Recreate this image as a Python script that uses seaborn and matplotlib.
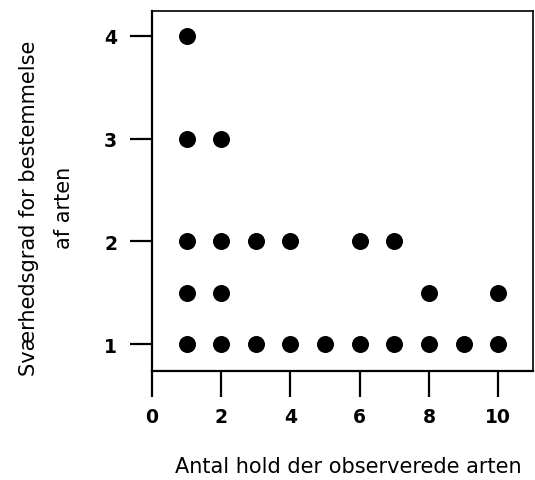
import matplotlib
matplotlib.use("Agg")
import matplotlib.pyplot as plt
import seaborn as sns
import pandas as pd

# antal hold (x) og sværhedsgrad (y)
antal_hold = [1, 1, 1, 1, 1,
              2, 2, 2, 2,
              3, 3,
              4, 4,
              5,
              6, 6,
              7, 7,
              8, 8,
              9,
              10, 10]
svaerhed = [4, 3, 2, 1.5, 1,
            3, 2, 1.5, 1,
            2, 1,
            2, 1,
            1,
            2, 1,
            2, 1,
            1.5, 1,
            1,
            1.5, 1]
x_ticks = [0, 2, 4, 6, 8, 10]
y_ticks = [1, 2, 3, 4]

df = pd.DataFrame({"hold": antal_hold, "grad": svaerhed})

sns.set_style("ticks", {"axes.edgecolor": "black", "text.color": "black",
                        "axes.labelcolor": "black", "xtick.color": "black",
                        "ytick.color": "black"})
plt.rcParams["font.family"] = ["DejaVu Sans"]

fig = plt.figure(figsize=(5.35, 4.81), dpi=100)
ax = fig.add_axes([0.284, 0.2266, 0.712, 0.7484])

sns.scatterplot(data=df, x="hold", y="grad", ax=ax, color="black",
                s=150, edgecolor="black", linewidth=0, legend=False)

ax.set_xlim(0, 11)
ax.set_ylim(0.737, 4.243)
ax.set_xticks(x_ticks)
ax.set_yticks(y_ticks)
ax.tick_params(axis="x", length=19, width=1.6, pad=7, labelsize=13.5)
ax.tick_params(axis="y", length=16, width=1.6, pad=9, labelsize=13.5)
for lab in ax.get_xticklabels() + ax.get_yticklabels():
    lab.set_fontweight("bold")

for side in ["left", "bottom"]:
    ax.spines[side].set_linewidth(1.6)
for side in ["top", "right"]:
    ax.spines[side].set_visible(True)
    ax.spines[side].set_linewidth(1.2)

ax.set_xlabel("Antal hold der observerede arten", fontsize=15)
ax.set_ylabel("Sværhedsgrad for bestemmelse\naf arten", fontsize=15,
              linespacing=1.9)
ax.xaxis.set_label_coords(0.515, -0.235)
ax.yaxis.set_label_coords(-0.205, 0.455)

fig.savefig("out.png", dpi=100)
